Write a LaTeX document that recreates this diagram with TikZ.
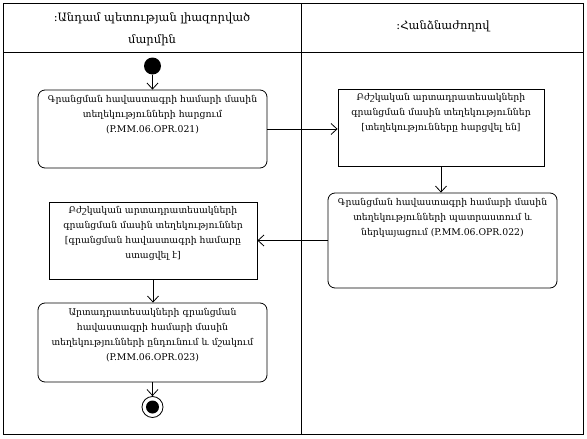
\documentclass[tikz,border=0pt]{standalone}
\usepackage{fontspec}
\setmainfont{DejaVu Serif}
\usetikzlibrary{arrows.meta}
\begin{document}
\begin{tikzpicture}[x=1pt,y=-1pt,
  lane/.style={draw,line width=1pt},
  act/.style={draw,line width=0.8pt,rounded corners=7pt,inner sep=0pt},
  obj/.style={draw,line width=0.8pt,inner sep=0pt},
  txt/.style={anchor=north,align=center,font=\fontsize{9.3}{15}\selectfont,inner sep=0pt},
  head/.style={align=center,font=\fontsize{11.5}{22}\selectfont,inner sep=0pt},
  arr/.style={line width=0.8pt,-{Straight Barb[length=6pt,width=11pt,line width=0.8pt]}}]
\useasboundingbox (0,0) rectangle (587,439);
% swimlanes
\draw[lane] (3,3) rectangle (583,434);
\draw[lane] (3,52) -- (583,52);
\draw[lane] (301,3) -- (301,434);
\node[head] (h1) at (152,29) {:Անդամ պետության լիազորված\\մարմին};
\node[head] (h2) at (443,26) {:Հանձնաժողով};
% start / end
\node[circle,fill=black,minimum size=17pt,inner sep=0pt] (start) at (152.5,66) {};
\node[circle,draw,line width=0.8pt,minimum size=21pt,inner sep=0pt] (endo) at (152.5,407) {};
\node[circle,fill=black,minimum size=13pt,inner sep=0pt] (endi) at (endo) {};
% boxes
\node[act,minimum width=229pt,minimum height=78pt] (b1) at (152.5,129) {};
\node[txt] (t1) at ([yshift=-6pt]b1.north) {Գրանցման հավաստագրի համարի մասին\\տեղեկությունների հարցում\\(P.MM.06.OPR.021)};
\node[obj,minimum width=206pt,minimum height=77pt] (b2) at (441,127.5) {};
\node[txt] (t2) at ([yshift=-5pt]b2.north) {Բժշկական արտադրատեսակների\\գրանցման մասին տեղեկություններ\\{[}տեղեկությունները հարցվել են{]}};
\node[act,minimum width=229pt,minimum height=95pt] (b3) at (442.5,240.5) {};
\node[txt] (t3) at ([yshift=-6pt]b3.north) {Գրանցման հավաստագրի համարի մասին\\տեղեկությունների պատրաստում և\\ներկայացում (P.MM.06.OPR.022)};
\node[obj,minimum width=208pt,minimum height=77pt] (b4) at (153,240.5) {};
\node[txt] (t4) at ([yshift=-5pt]b4.north) {Բժշկական արտադրատեսակների\\գրանցման մասին տեղեկություններ\\{[}գրանցման հավաստագրի համարը\\ստացվել է{]}};
\node[act,minimum width=229pt,minimum height=79pt] (b5) at (152.5,342.5) {};
\node[txt] (t5) at ([yshift=-6pt]b5.north) {Արտադրատեսակների գրանցման\\հավաստագրի համարի մասին\\տեղեկությունների ընդունում և մշակում\\(P.MM.06.OPR.023)};
% flows
\draw[arr] (start) -- (b1);
\draw[arr] (b1.east) -- (b1.east -| b2.west);
\draw[arr] (b2.south) -- (b2.south |- b3.north);
\draw[arr] (b3.west) -- (b4.east);
\draw[arr] (b4.south) -- (b4.south |- b5.north);
\draw[arr] (b5.south) -- (endo.north);
\end{tikzpicture}
\end{document}
